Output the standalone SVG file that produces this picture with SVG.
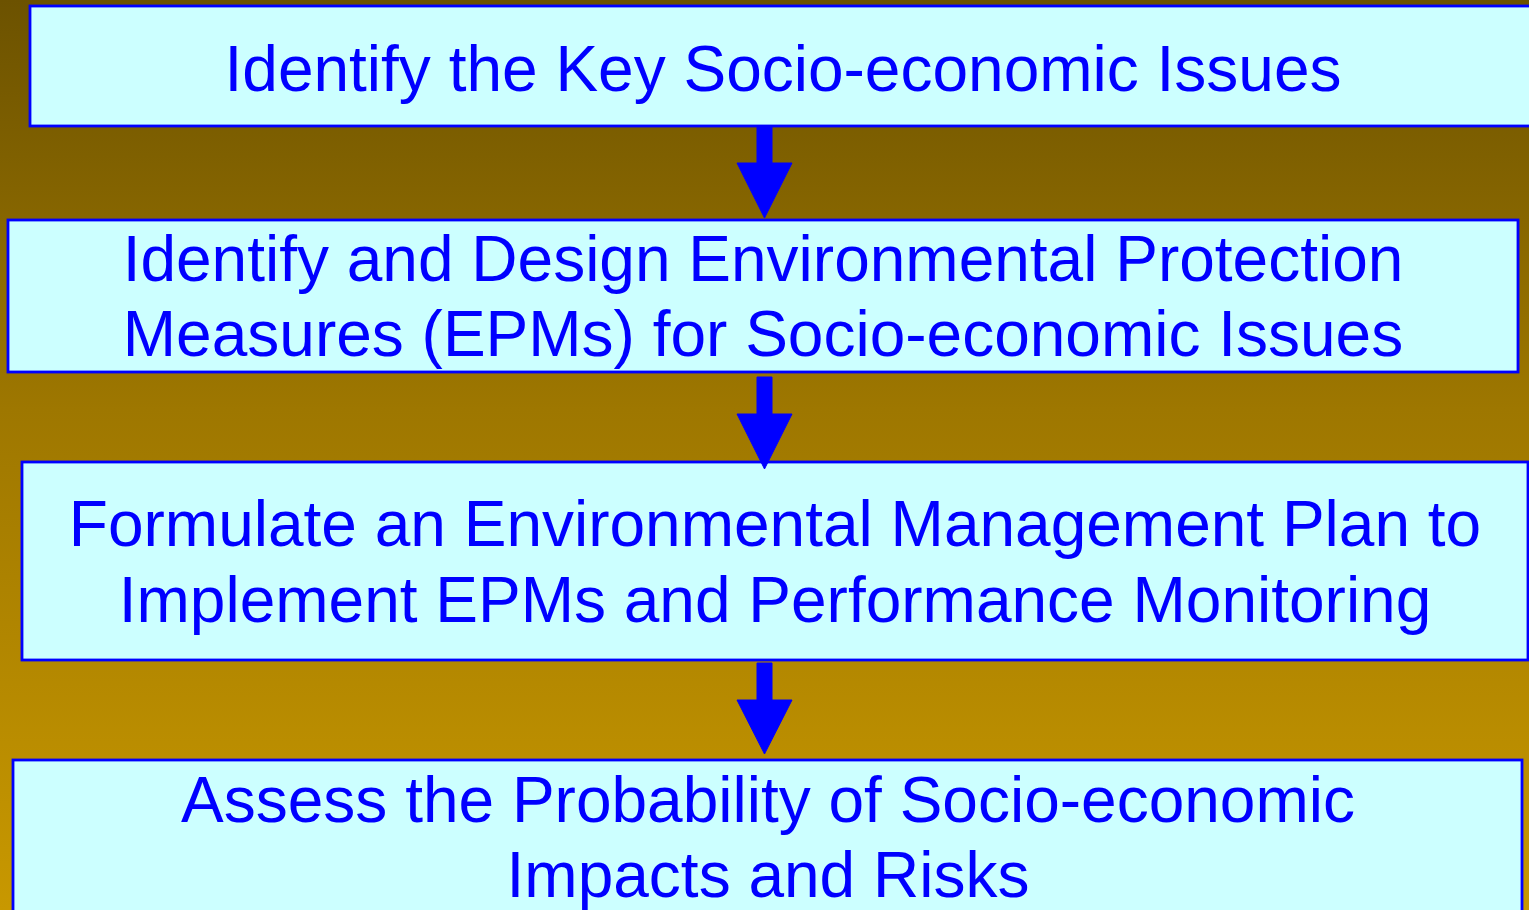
<svg xmlns="http://www.w3.org/2000/svg" width="1529" height="910" viewBox="0 0 1529 910">
  <defs>
    <linearGradient id="bg" x1="0" y1="0" x2="0" y2="1">
      <stop offset="0" stop-color="#6c5200"/>
      <stop offset="0.45" stop-color="#9e7700"/>
      <stop offset="1" stop-color="#c89800"/>
    </linearGradient>
  </defs>
  <style>
    .box { fill: #ccffff; stroke: #0000ff; stroke-width: 2.8; }
    .label { font-family: "Liberation Sans", Arial, sans-serif; font-size: 64px; fill: #0000ff; text-anchor: middle; }
    .arrow { fill: #0000ff; stroke: #0000ff; stroke-width: 1; }
  </style>

  <rect x="0" y="0" width="1529" height="910" fill="url(#bg)"/>

  <g id="node-issues">
    <rect class="box" x="30" y="6" width="1506" height="120"/>
    <text class="label" x="783" y="91">Identify the Key Socio-economic Issues</text>
  </g>

  <g id="node-epms">
    <rect class="box" x="8" y="220" width="1510" height="152"/>
    <text class="label" x="763" y="281">Identify and Design Environmental Protection</text>
    <text class="label" x="763" y="356">Measures (EPMs) for Socio-economic Issues</text>
  </g>

  <g id="node-emp">
    <rect class="box" x="22" y="462" width="1506" height="198"/>
    <text class="label" x="775" y="546">Formulate an Environmental Management Plan to</text>
    <text class="label" x="775" y="622">Implement EPMs and Performance Monitoring</text>
  </g>

  <g id="node-assess">
    <rect class="box" x="13" y="760" width="1509" height="160"/>
    <text class="label" x="768" y="822">Assess the Probability of Socio-economic</text>
    <text class="label" x="768" y="897">Impacts and Risks</text>
  </g>

  <!-- block arrows between the steps, drawn on top so their tips overlap the next box edge -->
  <g id="connectors">
    <polygon class="arrow" points="757,127 772,127 772,163 792,163 764.5,218 737,163 757,163"/>
    <polygon class="arrow" points="757,377 772,377 772,414 792,414 764.5,469 737,414 757,414"/>
    <polygon class="arrow" points="757,663 772,663 772,700 792,700 764.5,754 737,700 757,700"/>
  </g>
</svg>
